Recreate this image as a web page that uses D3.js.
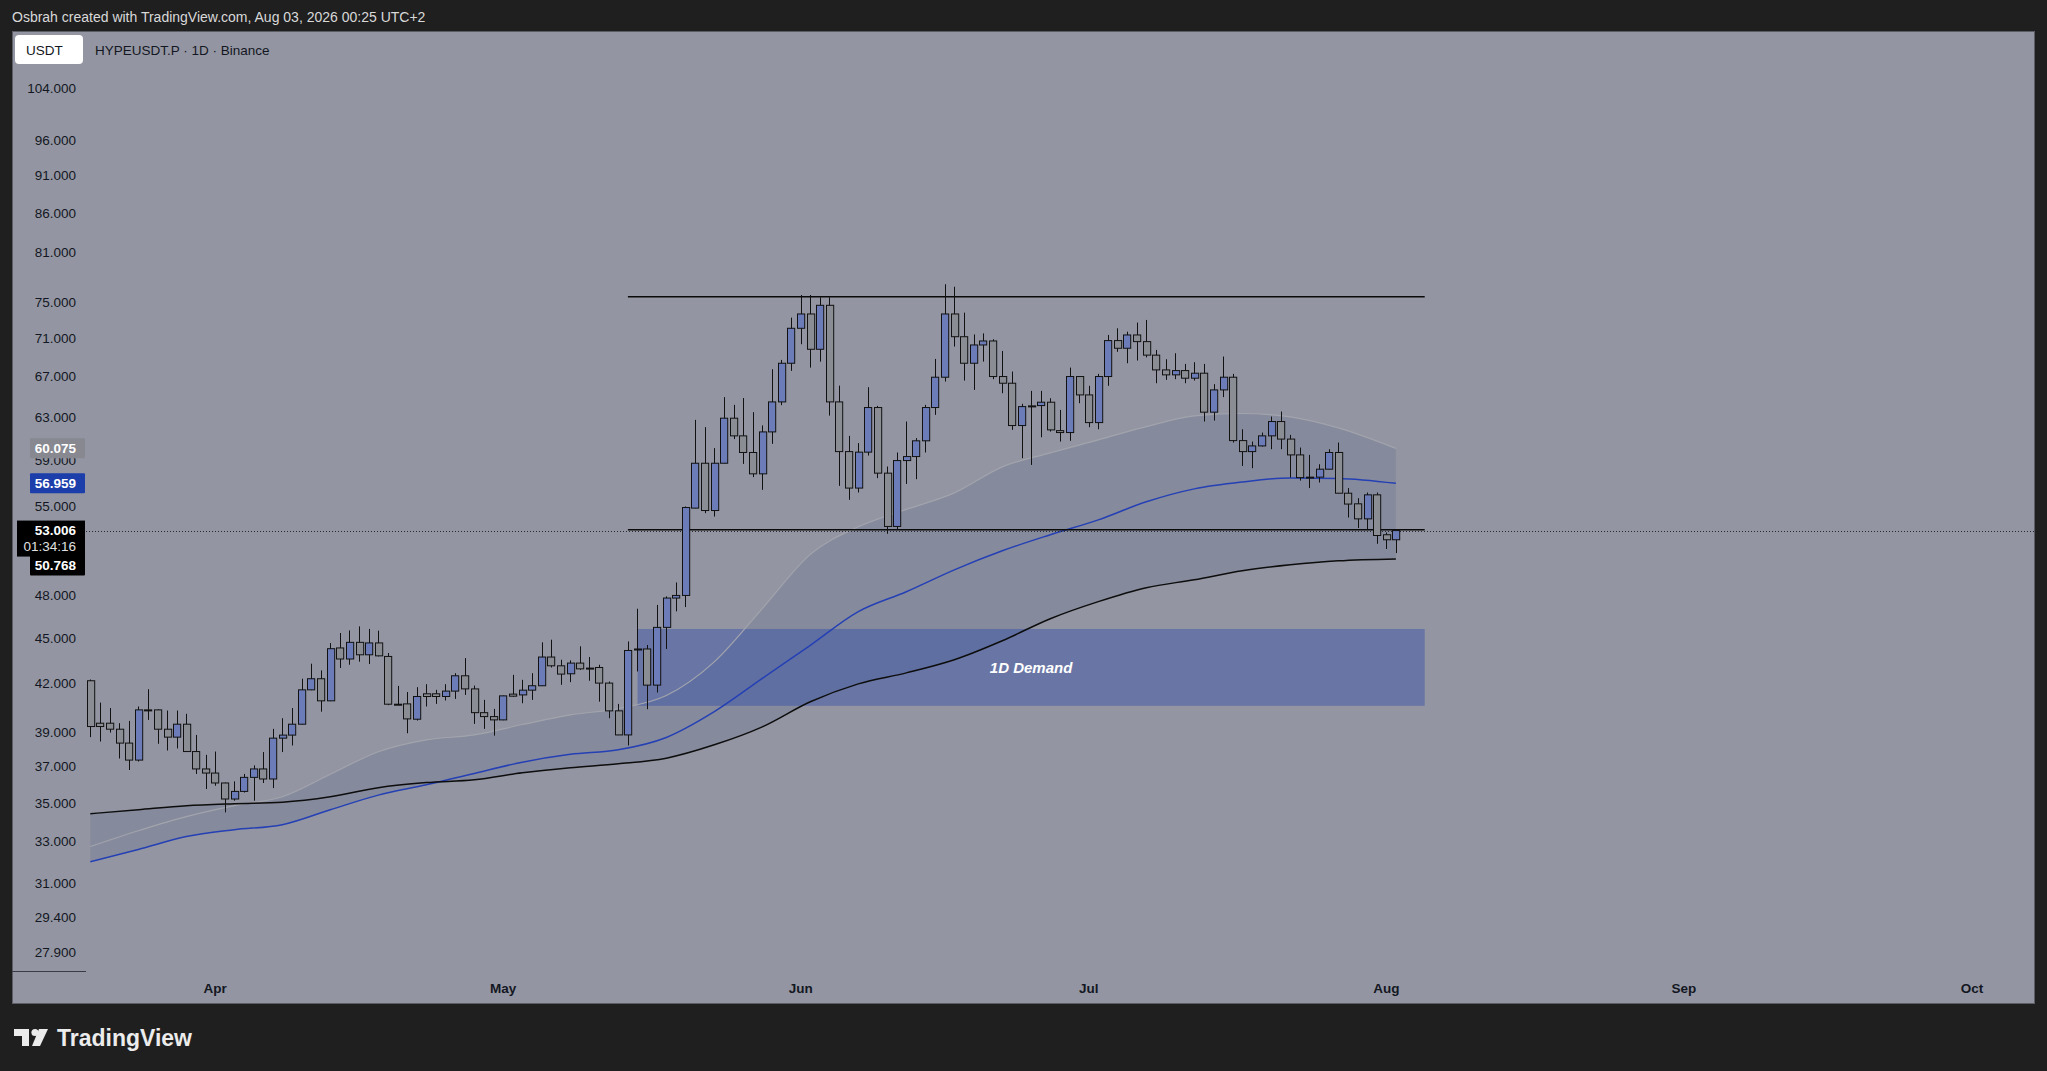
<!DOCTYPE html>
<html>
<head>
<meta charset="utf-8">
<title>HYPEUSDT.P 1D</title>
<script src="https://d3js.org/d3.v7.min.js"></script>
<style>
  body { margin: 0; background: #1f1f1f; overflow: hidden; }
  svg { display: block; }
  text { font-family: "Liberation Sans", Arial, sans-serif; }
</style>
</head>
<body>
<script>
// daily candles, 19 Mar -> 2 Aug 2026
var firstDay = "2026-03-19";

var opens = [42.17,39.53,39.53,39.17,38.35,37.37,40.34,40.34,39.17,38.70,
  39.47,37.86,36.87,36.64,36.09,35.22,35.63,36.40,36.87,36.31,
  38.64,38.82,39.47,41.59,42.30,40.90,44.33,43.59,44.71,43.87,
  44.67,43.76,40.69,40.71,39.77,41.34,41.34,41.17,41.51,42.49,
  41.65,40.17,39.93,39.73,41.32,41.27,41.57,41.85,43.72,43.14,
  42.62,43.32,42.99,43.03,42.02,40.28,38.83,44.26,44.26,41.89,
  45.74,47.83,48.02,54.85,58.73,54.65,58.73,62.90,61.23,59.70,
  57.79,61.60,64.48,68.39,72.13,73.72,69.86,74.70,64.48,59.78,
  56.55,59.73,63.93,57.85,53.34,58.97,59.33,60.77,63.93,66.95,
  73.72,71.21,68.39,70.32,70.75,67.02,66.34,62.20,64.09,64.12,
  64.45,61.72,61.54,67.02,65.17,62.48,67.02,70.79,69.97,71.40,
  70.68,69.24,67.70,67.19,67.63,66.85,67.36,63.48,65.67,66.95,
  60.79,59.78,60.30,61.23,62.58,60.93,59.48,57.50,57.50,58.20,
  59.70,56.11,55.21,53.96,55.97,52.67,52.27];

var highs = [42.25,40.79,40.45,39.53,39.67,40.55,41.63,40.38,40.30,40.30,
  40.10,38.83,37.67,37.86,36.12,36.18,36.59,37.07,37.83,39.19,
  39.83,40.45,42.30,43.28,42.84,44.66,45.35,45.53,45.81,45.63,
  45.51,43.99,41.84,41.45,41.76,41.95,41.59,41.95,42.66,43.65,
  41.86,40.96,40.40,41.23,42.55,42.23,42.66,44.71,44.89,43.54,
  43.50,44.44,43.72,43.21,42.12,40.71,44.77,47.06,44.53,47.33,
  47.95,48.98,54.99,62.74,62.05,60.10,64.95,64.19,64.86,63.48,
  62.21,67.77,68.74,73.31,75.88,75.88,75.61,75.61,66.10,61.23,
  60.56,65.94,64.09,58.44,59.70,62.58,61.02,64.19,68.84,77.13,
  76.84,73.87,71.46,71.57,70.94,69.68,67.53,64.29,65.57,65.57,
  64.84,63.70,67.94,67.05,66.08,67.29,71.40,72.13,71.76,72.76,
  73.05,69.79,68.81,69.44,68.32,68.50,68.32,66.25,69.09,67.29,
  61.85,60.70,61.54,63.06,63.54,61.32,60.15,59.48,58.64,60.00,
  60.61,56.55,55.69,56.17,56.17,52.85,53.12];

var lows = [38.70,38.44,38.97,37.46,36.81,37.29,39.73,38.31,37.92,38.04,
  37.84,36.59,35.76,35.94,34.51,35.13,35.57,35.13,36.09,35.81,
  37.83,38.21,39.45,41.57,40.23,40.88,43.00,43.21,43.41,43.26,
  43.76,40.63,40.63,38.93,39.69,40.55,40.71,40.92,41.02,41.27,
  39.49,39.19,38.79,39.71,41.15,40.75,40.96,41.83,43.03,41.91,
  42.08,42.88,42.17,40.85,39.83,38.82,38.21,42.77,40.38,41.42,
  44.26,46.87,47.18,54.84,54.43,54.15,58.71,60.93,58.67,57.50,
  56.40,60.49,64.16,67.60,70.40,67.94,68.56,63.15,56.74,55.55,
  56.17,59.42,57.41,52.75,53.07,56.91,57.32,59.70,63.22,66.51,
  70.15,66.61,65.67,68.56,66.75,65.34,61.79,59.18,58.58,61.10,
  61.63,60.70,60.77,64.35,62.04,61.85,66.08,69.59,68.39,68.67,
  69.00,66.34,66.68,66.75,66.34,66.61,62.58,62.67,64.95,60.61,
  58.49,58.29,60.24,60.00,60.00,57.46,57.20,56.55,57.03,58.18,
  56.10,54.07,53.21,53.07,51.95,51.54,51.22];

var closes = [39.33,39.33,39.17,38.35,37.37,40.34,40.32,39.17,38.70,39.47,
  37.86,36.87,36.64,36.09,35.22,35.63,36.40,36.87,36.31,38.64,
  38.82,39.47,41.59,42.30,40.90,44.28,43.59,44.71,43.87,44.67,
  43.80,40.69,40.68,39.79,41.17,41.17,41.17,41.51,42.49,41.65,
  40.17,39.93,39.73,41.21,41.19,41.57,41.85,43.72,43.14,42.60,
  43.32,42.94,42.98,42.02,40.28,38.83,44.16,44.25,41.89,45.74,
  47.83,48.02,54.90,58.73,54.65,58.73,62.90,61.23,59.70,57.79,
  61.60,64.48,68.39,72.13,73.72,69.86,74.70,64.48,59.78,56.55,
  59.73,63.93,57.85,53.34,58.97,59.33,60.77,63.93,66.95,73.72,
  71.21,68.39,70.32,70.75,67.02,66.34,62.20,64.02,64.06,64.45,
  61.79,61.54,67.02,65.17,62.48,67.02,70.79,69.97,71.40,70.68,
  69.24,67.70,67.19,67.63,66.85,67.36,63.48,65.67,66.95,60.79,
  59.78,60.30,61.23,62.58,60.93,59.48,57.46,57.48,58.20,59.70,
  56.11,55.19,53.96,55.97,52.61,52.27,53.006];

// moving averages, sampled every 5 days (day index from firstDay)
var maIdx = [0,5,10,15,20,25,30,35,40,45,50,55,60,65,70,75,80,85,90,95,100,105,110,115,120,125,130,136];
var grayMA = [32.76,33.56,34.29,34.87,35.34,36.57,37.85,38.54,38.83,39.45,40.03,40.42,41.23,43.40,
  47.07,51.12,53.31,54.74,56.14,58.41,59.67,60.86,62.10,63.12,63.35,63.03,61.98,60.075];
var blueMA = [32.01,32.61,33.26,33.61,33.87,34.65,35.43,35.99,36.62,37.25,37.70,37.96,38.68,40.23,
  42.32,44.51,46.85,48.29,49.93,51.40,52.67,53.88,55.38,56.48,57.08,57.43,57.39,56.959];
var blackMA = [34.44,34.65,34.86,34.97,35.05,35.34,35.83,36.11,36.27,36.66,36.94,37.16,37.48,38.25,
  39.31,40.84,41.97,42.68,43.54,44.82,46.35,47.57,48.59,49.18,49.86,50.31,50.62,50.768];

var priceTicks = [104, 96, 91, 86, 81, 75, 71, 67, 63, 59, 55, 48, 45, 42, 39, 37, 35, 33, 31, 29.4, 27.9];
var monthTicks = ["2026-04-01","2026-05-01","2026-06-01","2026-07-01","2026-08-01","2026-09-01","2026-10-01"];

// drawings
var rangeTop = 75.68, rangeBottom = 53.07;
var rangeFrom = "2026-05-14", rangeTo = "2026-08-05";
var demandTop = 45.63, demandBottom = 40.59;
var demandFrom = "2026-05-15", demandTo = "2026-08-05";
var lastPrice = 53.006, countdown = "01:34:16";

var width = 2047, height = 1071;
var pane = {left: 12, top: 31, right: 2034, bottom: 1003};
var plotLeft = 86;

var parse = d3.utcParse("%Y-%m-%d");
var day0 = parse(firstDay);
var dayAt = function(i) { return d3.utcDay.offset(day0, i); };

var x = d3.scaleUtc()
  .domain([day0, dayAt(136)])
  .range([90.3, 90.3 + 9.6 * 136]);
var y = d3.scaleLog()
  .domain([104, 27.9])
  .range([88, 952]);

var candles = closes.map(function(c, i) {
  return {date: dayAt(i), o: opens[i], h: highs[i], l: lows[i], c: c};
});

var svg = d3.select("body").append("svg")
  .attr("width", width).attr("height", height);

svg.append("rect").attr("width", width).attr("height", height).attr("fill", "#1f1f1f");

svg.append("text")
  .attr("x", 12).attr("y", 22)
  .attr("fill", "#d9d9d9").attr("font-size", 14)
  .text("Osbrah created with TradingView.com, Aug 03, 2026 00:25 UTC+2");

svg.append("rect")
  .attr("x", pane.left + 0.5).attr("y", pane.top + 0.5)
  .attr("width", pane.right - pane.left).attr("height", pane.bottom - pane.top)
  .attr("fill", "#9396a2").attr("stroke", "#5c5e66");

svg.append("clipPath").attr("id", "plot")
  .append("rect").attr("x", plotLeft).attr("y", pane.top + 1)
  .attr("width", pane.right - plotLeft).attr("height", pane.bottom - pane.top - 2);

var plot = svg.append("g").attr("clip-path", "url(#plot)");

// MA envelope shading
var ma = maIdx.map(function(d, k) {
  return {date: dayAt(d), g: grayMA[k], b: blueMA[k], k: blackMA[k]};
});
plot.append("path")
  .datum(ma)
  .attr("fill", "rgba(40,55,120,0.12)")
  .attr("d", d3.area()
    .curve(d3.curveMonotoneX)
    .x(function(d) { return x(d.date); })
    .y0(function(d) { return Math.max(y(d.g), y(d.b), y(d.k)); })
    .y1(function(d) { return Math.min(y(d.g), y(d.b), y(d.k)); }));

// demand zone
plot.append("rect")
  .attr("x", x(parse(demandFrom))).attr("y", y(demandTop))
  .attr("width", x(parse(demandTo)) - x(parse(demandFrom)))
  .attr("height", y(demandBottom) - y(demandTop))
  .attr("fill", "rgba(33,66,170,0.37)");

var maLine = function(key) {
  return d3.line().curve(d3.curveMonotoneX)
    .x(function(d) { return x(d.date); })
    .y(function(d) { return y(d[key]); });
};
plot.append("path").datum(ma).attr("fill", "none")
  .attr("stroke", "#a2a4ac").attr("stroke-width", 1.2).attr("d", maLine("g"));
plot.append("path").datum(ma).attr("fill", "none")
  .attr("stroke", "#2440b4").attr("stroke-width", 1.5).attr("d", maLine("b"));
plot.append("path").datum(ma).attr("fill", "none")
  .attr("stroke", "#0d0d0d").attr("stroke-width", 1.5).attr("d", maLine("k"));

plot.append("text")
  .attr("x", (x(parse(demandFrom)) + x(parse(demandTo))) / 2)
  .attr("y", y(Math.sqrt(demandTop * demandBottom)))
  .attr("dy", "0.35em")
  .attr("text-anchor", "middle")
  .attr("fill", "#ffffff").attr("font-size", 15)
  .attr("font-style", "italic").attr("font-weight", "bold")
  .text("1D Demand");

// current price line
plot.append("line")
  .attr("x1", plotLeft).attr("x2", pane.right)
  .attr("y1", Math.round(y(lastPrice)) + 0.5).attr("y2", Math.round(y(lastPrice)) + 0.5)
  .attr("stroke", "#2a2a2a").attr("stroke-dasharray", "1,2");

// range lines
[rangeTop, rangeBottom].forEach(function(p) {
  plot.append("line")
    .attr("x1", x(parse(rangeFrom))).attr("x2", x(parse(rangeTo)))
    .attr("y1", y(p)).attr("y2", y(p))
    .attr("stroke", "#0a0a0a").attr("stroke-width", 1.6);
});

// candles
var bodyW = 7.2;
var cg = plot.append("g").selectAll("g").data(candles).enter().append("g");
cg.append("line")
  .attr("x1", function(d) { return Math.round(x(d.date)) + 0.5; })
  .attr("x2", function(d) { return Math.round(x(d.date)) + 0.5; })
  .attr("y1", function(d) { return y(d.h); })
  .attr("y2", function(d) { return y(d.l); })
  .attr("stroke", "#111");
cg.append("rect")
  .attr("x", function(d) { return Math.round(x(d.date) - bodyW / 2) + 0.5; })
  .attr("y", function(d) { return y(Math.max(d.o, d.c)); })
  .attr("width", bodyW)
  .attr("height", function(d) { return Math.max(1, y(Math.min(d.o, d.c)) - y(Math.max(d.o, d.c))); })
  .attr("fill", function(d) { return d.c > d.o ? "#6b7cb9" : "#8b8d94"; })
  .attr("stroke", "#111").attr("stroke-width", 1);

// symbol legend
svg.append("rect").attr("x", 15).attr("y", 35).attr("width", 68).attr("height", 29)
  .attr("rx", 4).attr("fill", "#ffffff");
svg.append("text").attr("x", 26).attr("y", 50).attr("dy", "0.35em")
  .attr("fill", "#131722").attr("font-size", 13.5).text("USDT");
svg.append("text").attr("x", 95).attr("y", 50).attr("dy", "0.35em")
  .attr("fill", "#131722").attr("font-size", 13.5).text("HYPEUSDT.P \u00b7 1D \u00b7 Binance");

// price axis (left)
var fmt = d3.format(".3f");
svg.append("g").selectAll("text").data(priceTicks).enter().append("text")
  .attr("x", 76).attr("y", function(d) { return y(d); })
  .attr("dy", "0.35em").attr("text-anchor", "end")
  .attr("fill", "#131722").attr("font-size", 13.5)
  .text(function(d) { return fmt(d); });

svg.append("line")
  .attr("x1", pane.left).attr("x2", plotLeft)
  .attr("y1", 971.5).attr("y2", 971.5)
  .attr("stroke", "#3a3c44");

// time axis
svg.append("g").selectAll("text").data(monthTicks).enter().append("text")
  .attr("x", function(d) { return x(parse(d)); }).attr("y", 988)
  .attr("dy", "0.35em").attr("text-anchor", "middle")
  .attr("fill", "#131722").attr("font-size", 13.5).attr("font-weight", "bold")
  .text(function(d) { return d3.utcFormat("%b")(parse(d)); });

// price labels on axis
function axisLabel(p, cy, bg, left) {
  svg.append("rect").attr("x", left).attr("y", cy - 10)
    .attr("width", 85 - left).attr("height", 20).attr("rx", 1).attr("fill", bg);
  svg.append("text").attr("x", 76).attr("y", cy).attr("dy", "0.35em")
    .attr("text-anchor", "end").attr("fill", "#ffffff")
    .attr("font-size", 13.5).attr("font-weight", "bold").text(fmt(p));
}
axisLabel(grayMA[grayMA.length - 1], y(grayMA[grayMA.length - 1]), "#878890", 30);
axisLabel(blueMA[blueMA.length - 1], y(blueMA[blueMA.length - 1]), "#1c3eaa", 30);

var ly = y(lastPrice);
svg.append("rect").attr("x", 17).attr("y", ly - 10)
  .attr("width", 68).attr("height", 36).attr("fill", "#000");
svg.append("text").attr("x", 76).attr("y", ly).attr("dy", "0.35em")
  .attr("text-anchor", "end").attr("fill", "#fff")
  .attr("font-size", 13.5).attr("font-weight", "bold").text(fmt(lastPrice));
svg.append("text").attr("x", 76).attr("y", ly + 16).attr("dy", "0.35em")
  .attr("text-anchor", "end").attr("fill", "#e0e0e0")
  .attr("font-size", 13.5).text(countdown);
axisLabel(blackMA[blackMA.length - 1], ly + 35, "#000", 30);

// TradingView footer
var logo = svg.append("g").attr("fill", "#ececec");
logo.append("path").attr("d", "M14,1029 H29 V1046 H22 V1036 H14 Z");
logo.append("circle").attr("cx", 35).attr("cy", 1032.5).attr("r", 3.6);
logo.append("path").attr("d", "M39,1029 H48 L40,1046 H32 Z");
svg.append("text")
  .attr("x", 57).attr("y", 1046)
  .attr("fill", "#ececec").attr("font-size", 24).attr("font-weight", "bold")
  .attr("textLength", 135).attr("lengthAdjust", "spacingAndGlyphs")
  .text("TradingView");
</script>
</body>
</html>
